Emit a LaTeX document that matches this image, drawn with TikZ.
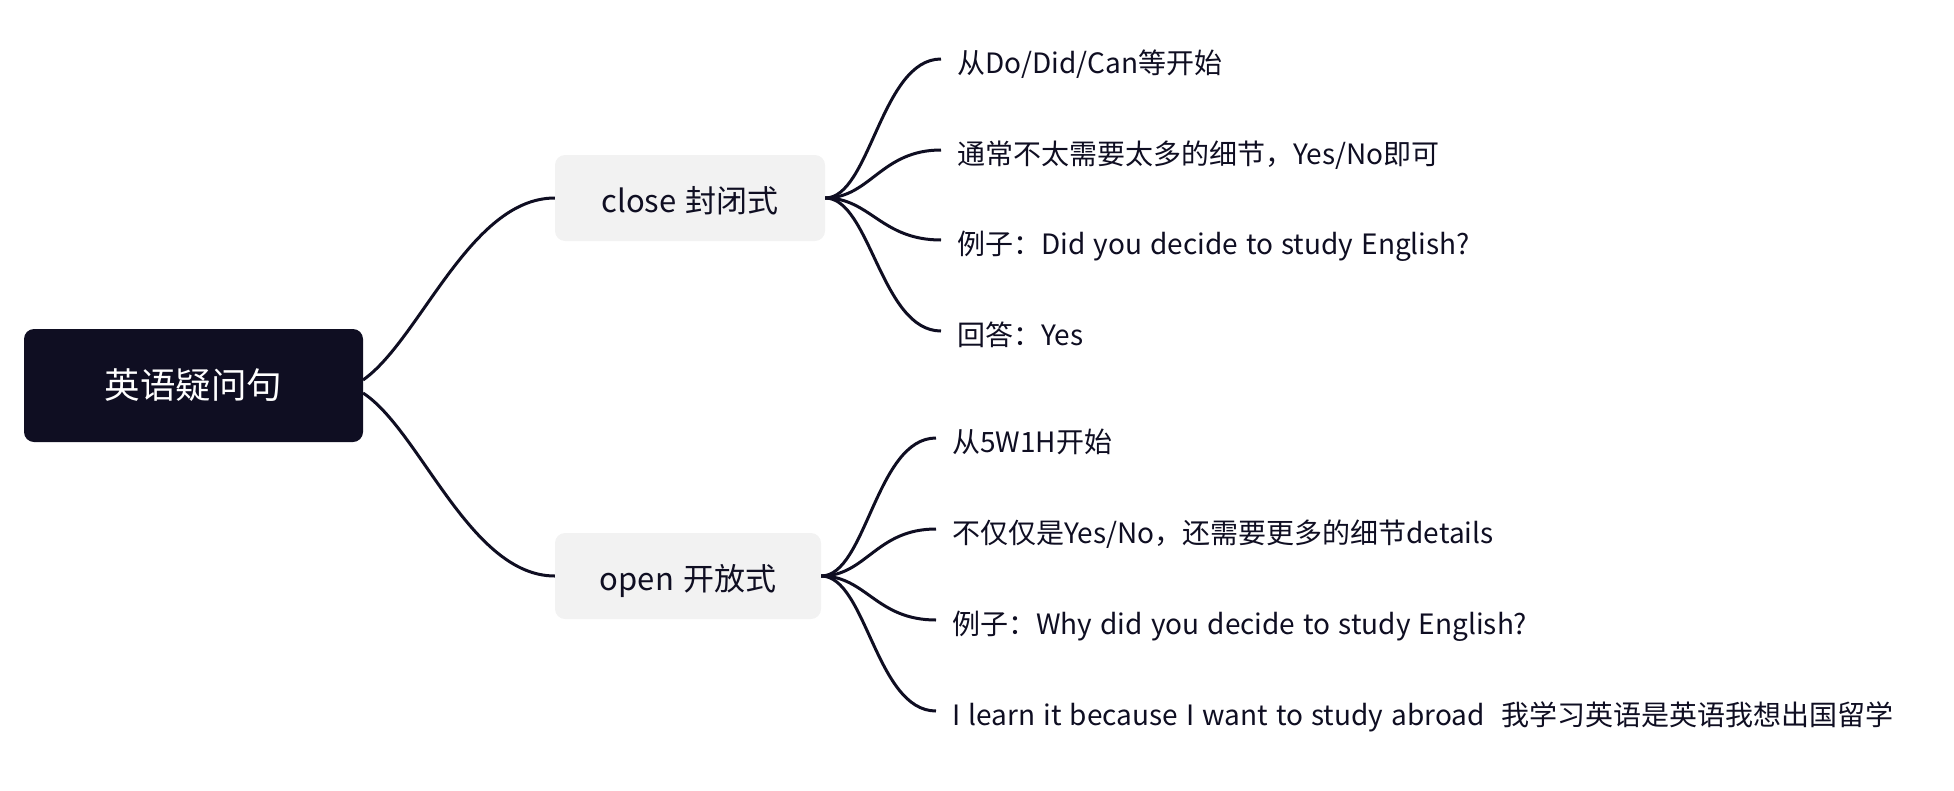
\documentclass[tikz,border=0pt]{standalone}
\usepackage{fontspec}
\setmainfont[WordSpace=1.3]{Noto Sans CJK SC}
\definecolor{ink}{HTML}{0F0E22}
\definecolor{boxgray}{HTML}{F2F2F2}
\begin{document}
\begin{tikzpicture}[x=1pt,y=-1pt,
  conn/.style={draw=ink,line width=3pt},
  rootbox/.style={fill=ink,text=white,rounded corners=10pt,minimum width=339pt,minimum height=113pt,font=\fontsize{35.5}{40}\selectfont,inner sep=0pt},
  topicbox/.style={fill=boxgray,text=ink,rounded corners=10pt,minimum height=86pt,font=\fontsize{31}{36}\selectfont,inner sep=0pt,text height=30pt,text depth=2pt},
  leaf/.style={anchor=west,text=ink,inner xsep=16pt,inner ysep=0pt,font=\fontsize{28}{33}\selectfont,text height=30pt,text depth=1pt}
]
\useasboundingbox (0,0) rectangle (1954,790);
\node[rootbox] (root) at (193.5,385.5) {英语疑问句};
\node[topicbox,minimum width=270pt] (close) at (690,198) {close 封闭式};
\node[topicbox,minimum width=266pt] (open) at (688,576) {open 开放式};

\coordinate (r1) at (363,380);
\coordinate (r2) at (363,393);
\draw[conn] (r1) .. controls (420,340) and (470,198) .. (close.west);
\draw[conn] (r2) .. controls (420,430) and (470,576) .. (open.west);

\node[leaf] (c1) at (941,59) {从Do/Did/Can等开始};
\node[leaf] (c2) at (941,150) {通常不太需要太多的细节，Yes/No即可};
\node[leaf] (c3) at (941,240) {例子：Did you decide to study English?};
\node[leaf] (c4) at (941,331) {回答：Yes};

\node[leaf] (o1) at (936,438) {从5W1H开始};
\node[leaf] (o2) at (936,529) {不仅仅是Yes/No，还需要更多的细节details};
\node[leaf] (o3) at (936,620) {例子：Why did you decide to study English?};
\node[leaf] (o4) at (936,711) {I learn it because I want to study abroad\ \ 我学习英语是英语我想出国留学};

\foreach \c in {c1,c2,c3,c4}
  \draw[conn] (close.east) .. controls +(45,0) and +(-60,0) .. (\c.west);
\foreach \c in {o1,o2,o3,o4}
  \draw[conn] (open.east) .. controls +(45,0) and +(-60,0) .. (\c.west);
\end{tikzpicture}
\end{document}
